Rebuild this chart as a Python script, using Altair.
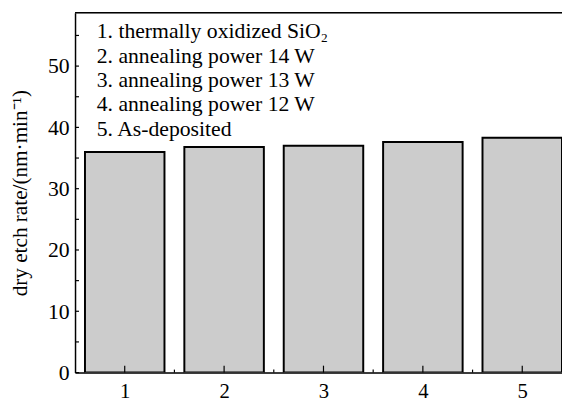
import altair as alt
import pandas as pd

# data
samples = [1, 2, 3, 4, 5]
etch_rate = [36.0, 36.8, 37.0, 37.6, 38.3]
legend_lines = [
    "1. thermally oxidized SiO\u2082",
    "2. annealing power 14 W",
    "3. annealing power 13 W",
    "4. annealing power 12 W",
    "5. As-deposited",
]
y_major = [0, 10, 20, 30, 40, 50]
y_minor = [5, 15, 25, 35, 45, 55]
x_minor = [1.5, 2.5, 3.5, 4.5]

W, H = 494, 365
FONT = "Liberation Serif"
YTITLE = "dry etch rate/(nm\u00b7min\u207b\u00b9)"

xs = alt.Scale(domain=[0.5, 5.4], nice=False, zero=False)
ys = alt.Scale(domain=[0, 58.7], nice=False, zero=False)

xaxis = alt.Axis(
    values=samples, title=None, ticks=False, tickSize=0, grid=False,
    labelFont=FONT, labelFontSize=21, labelColor="black", labelPadding=8,
    domainColor="black", domainWidth=1.5, labelFlush=False)
yaxis = alt.Axis(
    values=y_major, title=YTITLE, ticks=False,
    tickSize=0, grid=False, labelFont=FONT, labelFontSize=22, labelColor="black",
    labelPadding=6, domainColor="black", domainWidth=1.5, titleFont=FONT,
    titleFontSize=21.5, titleFontWeight="normal", titleColor="black",
    titlePadding=16, labelFlush=False)

bars_df = pd.DataFrame({"s": samples, "v": etch_rate})

bars = alt.Chart(bars_df).transform_calculate(
    x0="datum.s - 0.4", x1="datum.s + 0.4"
).mark_rect(fill="#cccccc", stroke="black", strokeWidth=2, clip=True).encode(
    x=alt.X("x0:Q", scale=xs, axis=xaxis),
    x2="x1:Q",
    y=alt.Y("v:Q", scale=ys, axis=yaxis),
    y2=alt.datum(0),
)

ymaj = alt.Chart(pd.DataFrame({"t": y_major + y_minor})).mark_rule(
    color="black", strokeWidth=1.2).encode(
    y=alt.Y("t:Q", scale=ys, axis=yaxis), x=alt.value(0), x2=alt.value(4))

xmaj = alt.Chart(pd.DataFrame({"t": samples})).mark_rule(
    color="black", strokeWidth=1.2).encode(
    x=alt.X("t:Q", scale=xs, axis=xaxis), y=alt.value(H), y2=alt.value(H - 7))

xmin = alt.Chart(pd.DataFrame({"t": x_minor})).mark_rule(
    color="black", strokeWidth=1.2).encode(
    x=alt.X("t:Q", scale=xs, axis=xaxis), y=alt.value(H), y2=alt.value(H - 3))

top = alt.Chart(pd.DataFrame({"a": [0]})).mark_rule(color="black", strokeWidth=1.5).encode(
    y=alt.value(0), x=alt.value(0), x2=alt.value(W))

legend = alt.Chart(pd.DataFrame({"a": [0]})).mark_text(
    align="left", baseline="alphabetic", font=FONT, fontSize=22, color="black",
    lineHeight=24.7).encode(
    x=alt.value(22), y=alt.value(26), text=alt.value(legend_lines))

chart = alt.layer(bars, ymaj, xmaj, xmin, top, legend).properties(
    width=W, height=H,
    autosize=alt.AutoSizeParams(type="none"),
    padding={"left": 68, "top": 2, "right": 0, "bottom": 26},
).configure_view(stroke=None).configure(background="white")

chart.save("out.html", embed_options={"renderer": "svg", "actions": False})
